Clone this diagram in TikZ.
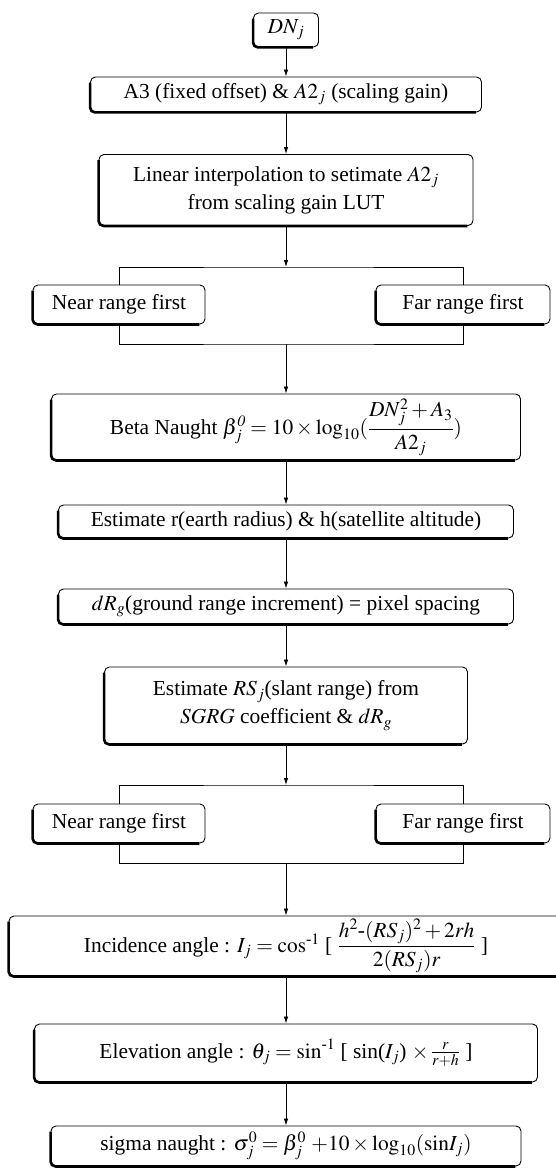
\documentclass[tikz,border=0pt]{standalone}
\usepackage{amsmath}
\usepackage{mathptmx}
\usepackage{fontspec}
\setmainfont{Liberation Serif}
\usetikzlibrary{arrows.meta,calc}
\tikzset{
  fbox/.style={draw, line width=0.9pt, rounded corners=5pt, align=center,
    inner sep=0pt, font=\fontsize{21.4}{28}\selectfont},
  heavy/.style={line width=2.6pt, rounded corners=5pt},
  conn/.style={line width=0.8pt},
  arr/.style={line width=0.8pt, -{Latex[length=7pt,width=4.5pt]}},
}
\newcommand{\heavyL}[1]{\draw[heavy] ([yshift=-6pt]#1.north west) -- (#1.south west) -- ([xshift=-6pt]#1.south east);}
\begin{document}
\begin{tikzpicture}[x=1pt,y=-1pt]
\useasboundingbox (0,0) rectangle (555,1169);
\node[fbox, minimum width=65, minimum height=34] (dn) at (286,30) {$DN_j$};
\node[fbox, minimum width=391, minimum height=35] (a3) at (286,94.5) {A3 (fixed offset) \& $A2_j$ (scaling gain)};
\node[fbox, minimum width=374, minimum height=71] (lin) at (286,190) {Linear interpolation to setimate $A2_j$\\from scaling gain LUT};
\node[fbox, minimum width=172, minimum height=39] (near1) at (119,304.5) {Near range first};
\node[fbox, minimum width=174, minimum height=39] (far1) at (463,304.5) {Far range first};
\node[fbox, minimum width=469, minimum height=66] (beta) at (286,427) {Beta Naught $\beta_j^{\mathit{0}} = 10\times\log_{10}(\dfrac{DN_j^2+A_3}{A2_j})$};
\node[fbox, minimum width=455, minimum height=33] (estr) at (286,521.5) {Estimate r(earth radius) \& h(satellite altitude)};
\node[fbox, minimum width=455, minimum height=35] (dr) at (286,606.5) {$dR_g$(ground range increment) = pixel spacing};
\node[fbox, minimum width=363, minimum height=77] (rs) at (286,705.5) {Estimate $RS_j$(slant range) from\\$SGRG$ coefficient \& $dR_g$};
\node[fbox, minimum width=172, minimum height=39] (near2) at (119,823.5) {Near range first};
\node[fbox, minimum width=174, minimum height=39] (far2) at (463,823.5) {Far range first};
\node[fbox, minimum width=554, minimum height=60] (inc) at (286,946) {Incidence angle : $I_j = \mathrm{cos}^{\text{-}1}$ [ $\dfrac{h^{2}\text{-}(RS_j)^2+2rh}{2(RS_j)r}$ ]};
\node[fbox, minimum width=503, minimum height=58] (elev) at (286,1053) {Elevation angle : $\theta_j = \mathrm{sin}^{\text{-}1}$ [ sin($I_j$) $\times\,\frac{r}{r+h}$ ]};
\node[fbox, minimum width=470, minimum height=40] (sig) at (286,1146) {sigma naught : $\sigma_j^0 = \beta_j^0$ $+10\times\log_{10}(\mathrm{sin}I_j)$};
\foreach \n in {dn,a3,lin,near1,far1,beta,estr,dr,rs,near2,far2,inc,elev,sig} {\heavyL{\n}}
\coordinate (j1) at (286,267);
\coordinate (m1) at (286,344);
\coordinate (j2) at (286,785);
\coordinate (m2) at (286,863);
\draw[arr] (dn) -- (a3);
\draw[arr] (a3) -- (lin);
\draw[arr] (lin) -- (j1);
\draw[conn] (near1.north) |- (j1) -| (far1.north);
\draw[conn] (near1.south) |- (m1) -| (far1.south);
\draw[arr] (m1) -- (beta);
\draw[arr] (beta) -- (estr);
\draw[arr] (estr) -- (dr);
\draw[arr] (dr) -- (rs);
\draw[arr] (rs) -- (j2);
\draw[conn] (near2.north) |- (j2) -| (far2.north);
\draw[conn] (near2.south) |- (m2) -| (far2.south);
\draw[arr] (m2) -- (inc);
\draw[arr] (inc) -- (elev);
\draw[arr] (elev) -- (sig);
\end{tikzpicture}
\end{document}
